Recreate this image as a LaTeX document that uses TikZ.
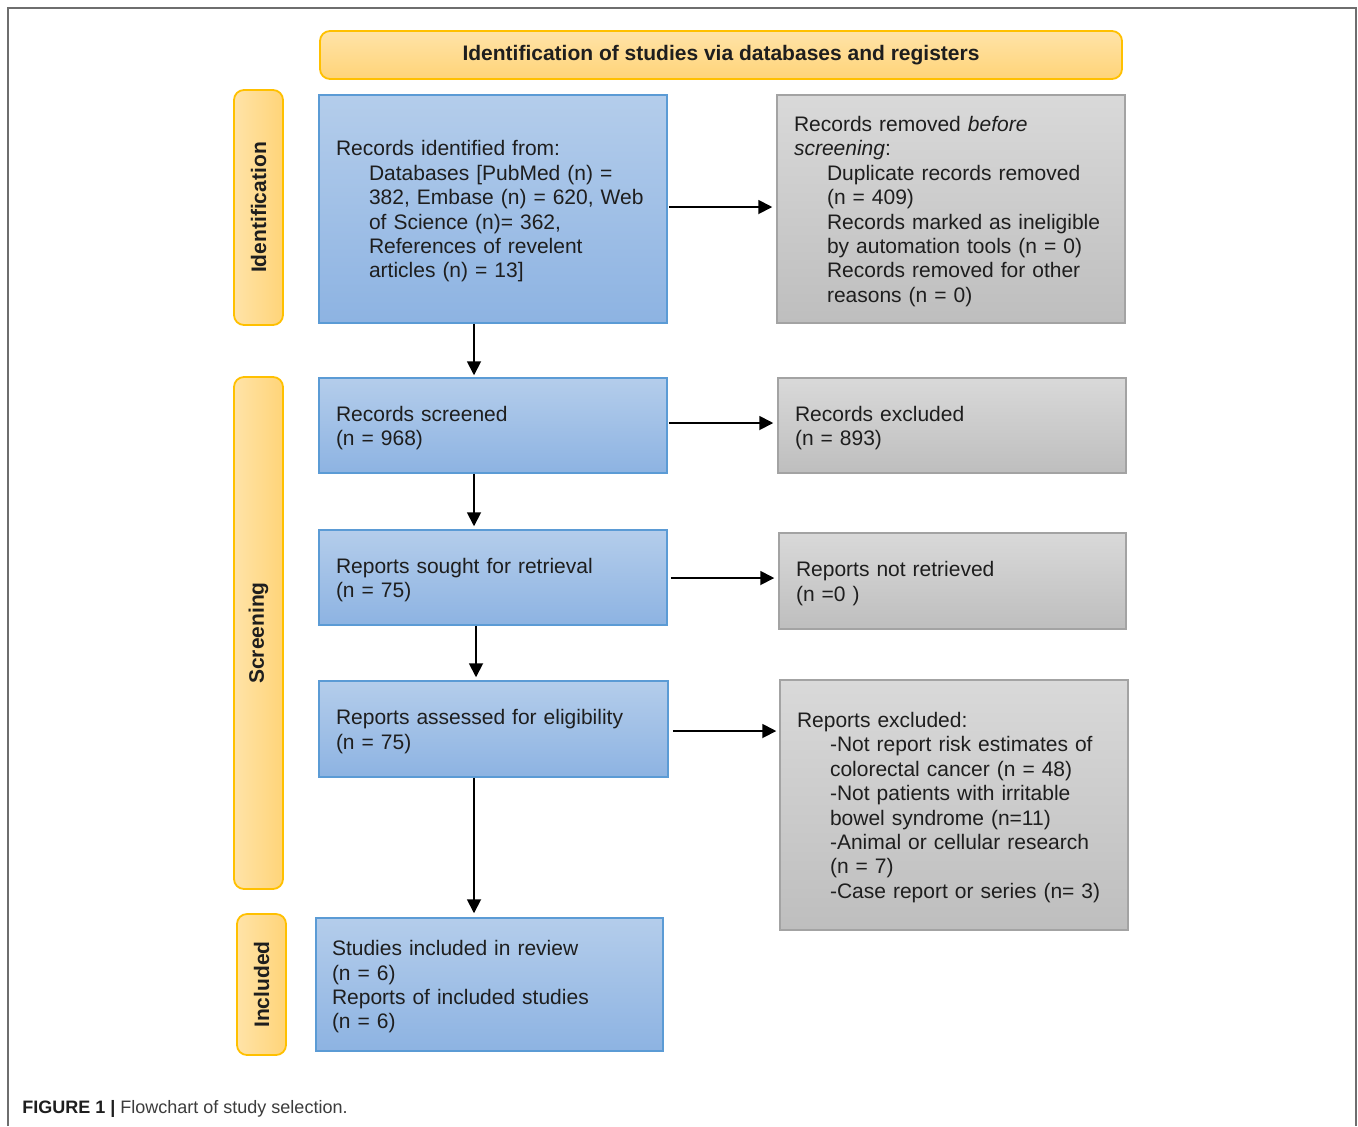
\documentclass[tikz,border=0pt]{standalone}
\usepackage{fontspec}
\setmainfont{Liberation Sans}
\usetikzlibrary{arrows.meta}
\definecolor{bluetop}{HTML}{B4CDEB}
\definecolor{bluebot}{HTML}{8DB3E2}
\definecolor{blueline}{HTML}{5B9BD5}
\definecolor{greytop}{HTML}{D9D9D9}
\definecolor{greybot}{HTML}{BEBEBE}
\definecolor{greyline}{HTML}{A3A3A3}
\definecolor{ylight}{HTML}{FFE3A8}
\definecolor{ydark}{HTML}{FFD478}
\definecolor{yline}{HTML}{FFC000}
\definecolor{txt}{HTML}{1E1E1E}
\definecolor{frame}{HTML}{6E6E6E}
\definecolor{captxt}{HTML}{3C3C3C}
\tikzset{
  basefont/.style={font=\fontsize{10.5}{12.2}\selectfont, text=txt},
  bluebox/.style={basefont, draw=blueline, line width=0.75pt, top color=bluetop, bottom color=bluebot,
    rectangle, inner xsep=8.5pt, inner ysep=0pt, align=left},
  greybox/.style={basefont, draw=greyline, line width=0.75pt, top color=greytop, bottom color=greybot,
    rectangle, inner xsep=8.5pt, inner ysep=0pt, align=left},
  sidebox/.style={draw=yline, line width=0.9pt, left color=ylight, right color=ydark,
    rounded corners=5pt, inner sep=0pt, font=\fontsize{10.5}{12.2}\selectfont\bfseries, text=txt},
  titlebox/.style={draw=yline, line width=0.9pt, top color=ylight, bottom color=ydark,
    rounded corners=5pt, inner sep=0pt, font=\fontsize{10.5}{12.2}\selectfont\bfseries, text=txt},
  arr/.style={-{Triangle[length=7pt,width=7pt]}, line width=0.9pt, black, shorten >=1pt},
}
\newcommand{\ind}{\hspace*{16.5pt}}
\newcommand{\tp}{\rule{0pt}{10pt}}
\begin{document}
\begin{tikzpicture}[x=0.5pt,y=-0.5pt]
\useasboundingbox (0,0) rectangle (1358,1126);
\fill[white] (0,0) rectangle (1358,1126);
\draw[frame, line width=1pt] (8,1126) -- (8,8) -- (1356,8) -- (1356,1126);

% title
\node[titlebox, minimum width=401pt, minimum height=24pt] (title) at (721,55)
  {\raisebox{-1pt}{Identification of studies via databases and registers}};

% side labels
\node[sidebox, minimum width=24.5pt, minimum height=117.5pt] (sid) at (258.5,207.5) {};
\node[rotate=90, font=\fontsize{10.5}{12.2}\selectfont\bfseries, text=txt] (sidt) at (sid.center) {Identification};
\node[sidebox, minimum width=24.5pt, minimum height=256pt] (sscr) at (258.5,633) {};
\node[rotate=90, font=\fontsize{10.5}{12.2}\selectfont\bfseries, text=txt] (sscrt) at (sscr.center) {Screening};
\node[sidebox, minimum width=24.5pt, minimum height=70.5pt] (sinc) at (261.5,984.5) {};
\node[rotate=90, font=\fontsize{10.5}{12.2}\selectfont\bfseries, text=txt] (sinct) at (sinc.center) {Included};

% blue boxes
\node[bluebox, minimum width=174pt, text width=157pt, minimum height=114pt] (b1) at (493,209)
  {\tp Records identified from:\\
   \ind Databases [PubMed (n) =\\
   \ind 382, Embase (n) = 620, Web\\
   \ind of Science (n)= 362,\\
   \ind References of revelent\\
   \ind articles (n) = 13]};
\node[bluebox, minimum width=174pt, text width=157pt, minimum height=47.5pt] (b2) at (493,425.5)
  {\tp Records screened\\(n = 968)};
\node[bluebox, minimum width=174pt, text width=157pt, minimum height=47.5pt] (b3) at (493,577.5)
  {\tp Reports sought for retrieval\\(n = 75)};
\node[bluebox, minimum width=174.5pt, text width=157.5pt, minimum height=48pt] (b4) at (493.5,729)
  {\tp Reports assessed for eligibility\\(n = 75)};
\node[bluebox, minimum width=173.5pt, text width=157.5pt, inner xsep=8pt, minimum height=66.5pt] (b5) at (489.5,984.5)
  {\tp Studies included in review\\(n = 6)\\Reports of included studies\\(n = 6)};

% grey boxes
\node[greybox, minimum width=174pt, text width=157pt, minimum height=114pt] (g1) at (951,209)
  {\tp Records removed \textit{before}\\
   \textit{screening}:\\
   \ind Duplicate records removed\\
   \ind (n = 409)\\
   \ind Records marked as ineligible\\
   \ind by automation tools (n = 0)\\
   \ind Records removed for other\\
   \ind reasons (n = 0)};
\node[greybox, minimum width=174pt, text width=157pt, minimum height=47.5pt] (g2) at (952,425.5)
  {\tp Records excluded\\(n = 893)};
\node[greybox, minimum width=173.5pt, text width=156.5pt, minimum height=48pt] (g3) at (952.5,581)
  {\tp Reports not retrieved\\(n =0 )};
\node[greybox, minimum width=174pt, text width=157pt, minimum height=125pt] (g4) at (954,805)
  {\tp Reports excluded:\\
   \ind -Not report risk estimates of\\
   \ind colorectal cancer (n = 48)\\
   \ind -Not patients with irritable\\
   \ind bowel syndrome (n=11)\\
   \ind -Animal or cellular research\\
   \ind (n = 7)\\
   \ind -Case report or series (n= 3)};

% horizontal arrows
\draw[arr, shorten <=0.5pt, shorten >=2pt] (b1.east |- 0,207) -- (g1.west |- 0,207);
\draw[arr, shorten <=0.5pt, shorten >=2pt] (b2.east |- 0,423) -- (g2.west |- 0,423);
\draw[arr, shorten <=1.5pt, shorten >=2pt] (b3.east |- 0,578) -- (g3.west |- 0,578);
\draw[arr, shorten <=2pt, shorten >=1.5pt] (b4.east |- 0,731) -- (g4.west |- 0,731);

% vertical arrows
\coordinate (ax) at (474,0);
\coordinate (ax3) at (476,0);
\draw[arr] (b1.south -| ax) -- (b2.north -| ax);
\draw[arr, shorten >=1.5pt] (b2.south -| ax) -- (b3.north -| ax);
\draw[arr, shorten >=1.5pt] (b3.south -| ax3) -- (b4.north -| ax3);
\draw[arr, shorten >=2pt] (b4.south -| ax) -- (b5.north -| ax);

% caption
\node[anchor=west, inner sep=0pt, font=\fontsize{9}{11}\selectfont, text=captxt] (cap) at (22,1109)
  {\textbf{\color{txt}FIGURE 1 |} Flowchart of study selection.};
\end{tikzpicture}
\end{document}
